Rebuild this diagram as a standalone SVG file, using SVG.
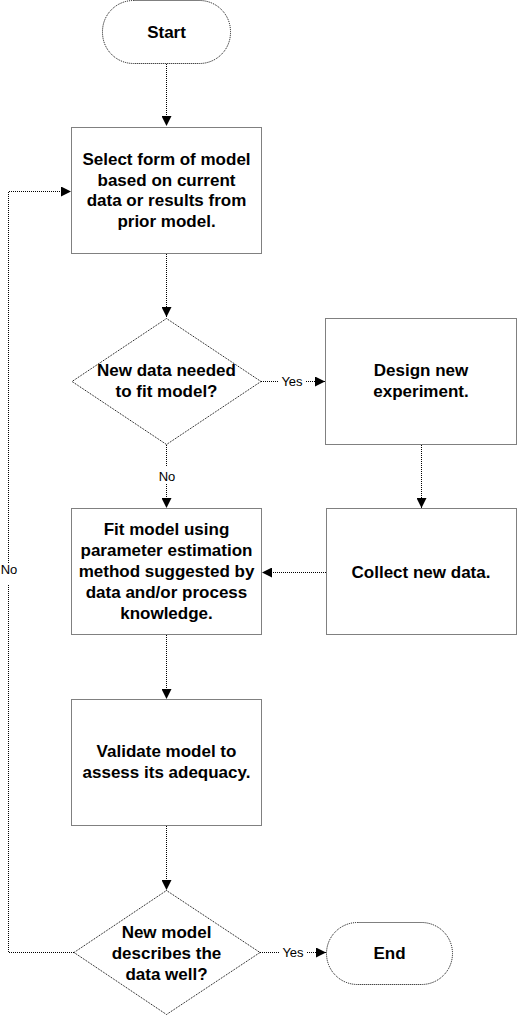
<svg xmlns="http://www.w3.org/2000/svg" width="517" height="1017" viewBox="0 0 517 1017">
<style>
.shape{fill:#fff;stroke:#000;stroke-width:1;stroke-dasharray:1 1}
.edge{fill:none;stroke:#000;stroke-width:1;stroke-dasharray:1 1}
.t{font-family:"Liberation Sans",Arial,sans-serif;font-weight:bold;font-size:17px;fill:#000;text-anchor:middle}
.l{font-family:"Liberation Sans",Arial,sans-serif;font-size:13px;fill:#000;text-anchor:middle}
</style>
<defs>
<marker id="ah" markerUnits="userSpaceOnUse" markerWidth="11" markerHeight="10" refX="10" refY="5" orient="auto">
<path d="M0,0 L10,5 L0,10 z" fill="#000"/>
</marker>
</defs>
<rect width="517" height="1017" fill="#fff"/>
<g id="connectors">
<path class="edge" d="M166.5,64 V126" marker-end="url(#ah)"/>
<path class="edge" d="M166.5,254 V317" marker-end="url(#ah)"/>
<path class="edge" d="M261,381.5 H278"/>
<path class="edge" d="M306,381.5 H325" marker-end="url(#ah)"/>
<text class="l" x="292" y="386">Yes</text>
<path class="edge" d="M166.5,445 V466"/>
<path class="edge" d="M166.5,484 V508" marker-end="url(#ah)"/>
<text class="l" x="167" y="481">No</text>
<path class="edge" d="M421.5,445 V508" marker-end="url(#ah)"/>
<path class="edge" d="M326,572.5 H262" marker-end="url(#ah)"/>
<path class="edge" d="M166.5,635 V699" marker-end="url(#ah)"/>
<path class="edge" d="M166.5,826 V890" marker-end="url(#ah)"/>
<path class="edge" d="M260,952.5 H279"/>
<path class="edge" d="M307,952.5 H326" marker-end="url(#ah)"/>
<text class="l" x="293" y="957">Yes</text>
<path class="edge" d="M74,952.5 H8.5 V584"/>
<path class="edge" d="M8.5,563 V191.5 H71" marker-end="url(#ah)"/>
<text class="l" x="9" y="574">No</text>
</g>
<g id="start">
<rect class="shape" x="102.5" y="0.5" width="128" height="63" rx="31" ry="31"/>
<text class="t" x="166.5" y="38">Start</text>
</g>
<g id="select">
<rect class="shape" x="71.5" y="127.5" width="190" height="126"/>
<text class="t" x="166.5" y="165">Select form of model</text>
<text class="t" x="166.5" y="186">based on current</text>
<text class="t" x="166.5" y="206">data or results from</text>
<text class="t" x="166.5" y="227">prior model.</text>
</g>
<g id="decision1">
<polygon class="shape" points="166.5,318.5 261,381.5 166.5,444.5 72,381.5"/>
<text class="t" x="166.5" y="376">New data needed</text>
<text class="t" x="166.5" y="397">to fit model?</text>
</g>
<g id="design">
<rect class="shape" x="325.5" y="318.5" width="191" height="126"/>
<text class="t" x="421" y="376">Design new</text>
<text class="t" x="421" y="397">experiment.</text>
</g>
<g id="fit">
<rect class="shape" x="71.5" y="508.5" width="190" height="126"/>
<text class="t" x="166.5" y="535">Fit model using</text>
<text class="t" x="166.5" y="556">parameter estimation</text>
<text class="t" x="166.5" y="577">method suggested by</text>
<text class="t" x="166.5" y="598">data and/or process</text>
<text class="t" x="166.5" y="619">knowledge.</text>
</g>
<g id="collect">
<rect class="shape" x="326.5" y="508.5" width="190" height="126"/>
<text class="t" x="421" y="578">Collect new data.</text>
</g>
<g id="validate">
<rect class="shape" x="71.5" y="699.5" width="190" height="126"/>
<text class="t" x="166.5" y="757">Validate model to</text>
<text class="t" x="166.5" y="778">assess its adequacy.</text>
</g>
<g id="decision2">
<polygon class="shape" points="166.5,890.5 260,952.5 166.5,1014.5 74,952.5"/>
<text class="t" x="166.5" y="938">New model</text>
<text class="t" x="166.5" y="959">describes the</text>
<text class="t" x="166.5" y="980">data well?</text>
</g>
<g id="end">
<rect class="shape" x="326.5" y="922.5" width="126" height="62" rx="31" ry="31"/>
<text class="t" x="389.5" y="959">End</text>
</g>
</svg>
